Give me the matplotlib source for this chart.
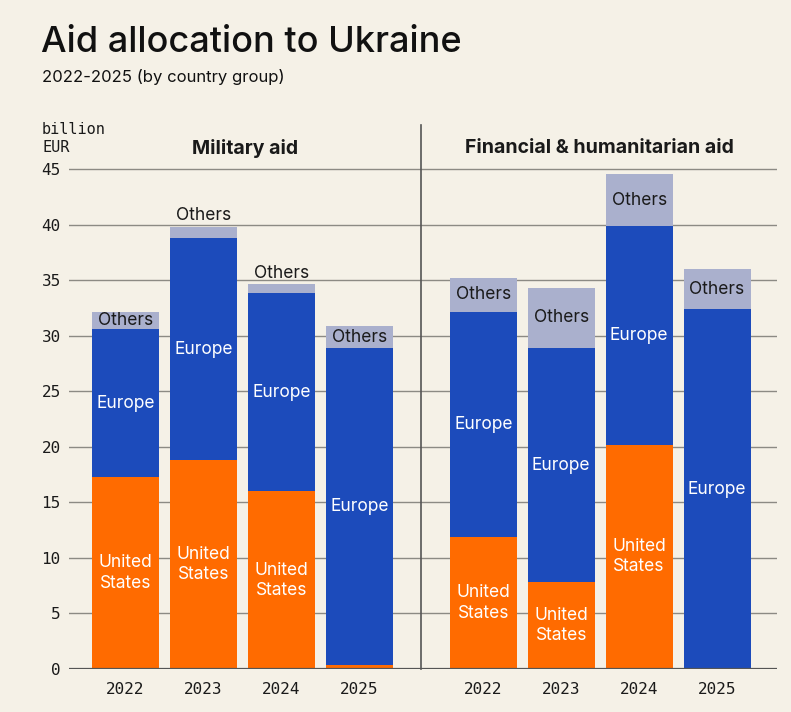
import matplotlib
matplotlib.use("Agg")
import matplotlib.pyplot as plt
import numpy as np

years = ["2022", "2023", "2024", "2025"]
panels = ["Military aid", "Financial & humanitarian aid"]
# segment values (billion EUR)
mil_us = [17.3, 18.8, 16.0, 0.4]
mil_europe = [13.3, 20.0, 17.9, 28.5]
mil_others = [1.6, 1.0, 0.75, 2.0]
fin_us = [11.9, 7.8, 20.2, 0.0]
fin_europe = [20.3, 21.15, 19.7, 32.4]
fin_others = [3.05, 5.35, 4.65, 3.6]
yticks = [0, 5, 10, 15, 20, 25, 30, 35, 40, 45]

BG = "#f5f1e7"
ORANGE = "#ff6b00"
BLUE = "#1c4bbb"
GREY = "#aab0cd"
TXT = "#1a1a1a"
GRID = "#8c8a84"
SANS = ["Inter", "DejaVu Sans"]
MONO = ["DejaVu Sans Mono"]

W, H = 791, 712
fig = plt.figure(figsize=(W / 100, H / 100), dpi=100, facecolor=BG)

def fx(px):
    return px / W

def fy(py):
    return (H - py) / H

bottom = fy(669)
top = fy(125)
ax1 = fig.add_axes([fx(69), bottom, fx(421) - fx(69), top - bottom])
ax2 = fig.add_axes([fx(421), bottom, fx(777) - fx(421), top - bottom])

data = [(mil_us, mil_europe, mil_others), (fin_us, fin_europe, fin_others)]
xlims = [(-0.725, 3.79), (-0.80, 3.77)]
x = np.arange(len(years))
width = 0.86

for i, (ax, (us, eu, ot)) in enumerate(zip([ax1, ax2], data)):
    ax.set_facecolor(BG)
    ax.set_xlim(*xlims[i])
    ax.set_ylim(0, 49)
    for v in yticks[1:]:
        ax.axhline(v, color=GRID, lw=1.0, zorder=0)
    us = np.array(us); eu = np.array(eu); ot = np.array(ot)
    ax.bar(x, us, width, color=ORANGE, zorder=2)
    ax.bar(x, eu, width, bottom=us, color=BLUE, zorder=2)
    ax.bar(x, ot, width, bottom=us + eu, color=GREY, zorder=2)
    for j in range(len(years)):
        if us[j] > 3:
            ax.text(x[j], us[j] / 2, "United\nStates", ha="center", va="center",
                    color="white", fontsize=12.5, family=SANS, linespacing=1.25, zorder=3)
        if eu[j] > 3:
            ax.text(x[j], us[j] + eu[j] / 2, "Europe", ha="center", va="center",
                    color="white", fontsize=12.5, family=SANS, zorder=3)
        tot = us[j] + eu[j] + ot[j]
        if ot[j] >= 1.5:
            ax.text(x[j], us[j] + eu[j] + ot[j] / 2, "Others", ha="center", va="center",
                    color=TXT, fontsize=12.5, family=SANS, zorder=3)
        else:
            ax.text(x[j], tot + 0.25, "Others", ha="center", va="bottom",
                    color=TXT, fontsize=12.5, family=SANS, zorder=3)
    ax.axhline(0, color="#555555", lw=1.6, zorder=4)
    ax.set_xticks(x)
    ax.set_xticklabels(years, family=MONO, fontsize=11.5, color=TXT)
    ax.tick_params(axis="x", length=0, pad=9)
    for s in ["top", "right", "bottom"]:
        ax.spines[s].set_visible(False)
    if i == 0:
        ax.spines["left"].set_visible(False)
        ax.set_yticks(yticks)
        ax.set_yticklabels([str(v) for v in yticks], family=MONO, fontsize=11.5, color=TXT)
        ax.tick_params(axis="y", length=0, pad=6)
    else:
        ax.spines["left"].set_color("#555555")
        ax.spines["left"].set_linewidth(1.2)
        ax.set_yticks([])

fig.text(fx(245), fy(148), panels[0], ha="center", va="center",
         fontsize=14, fontweight="bold", family=SANS, color=TXT)
fig.text(fx(599), fy(148), panels[1], ha="center", va="center",
         fontsize=14, fontweight="bold", family=SANS, color=TXT)

fig.text(fx(42), fy(138), "billion\nEUR", ha="left", va="center",
         fontsize=11, family=MONO, color=TXT, linespacing=1.25)

fig.text(fx(41), fy(42), "Aid allocation to Ukraine", ha="left", va="center",
         fontsize=26, fontweight="medium", family=SANS, color="#111111")
fig.text(fx(42), fy(77), "2022-2025 (by country group)", ha="left", va="center",
         fontsize=12, family=SANS, color="#111111")

fig.savefig("out.png", dpi=100, facecolor=BG)
